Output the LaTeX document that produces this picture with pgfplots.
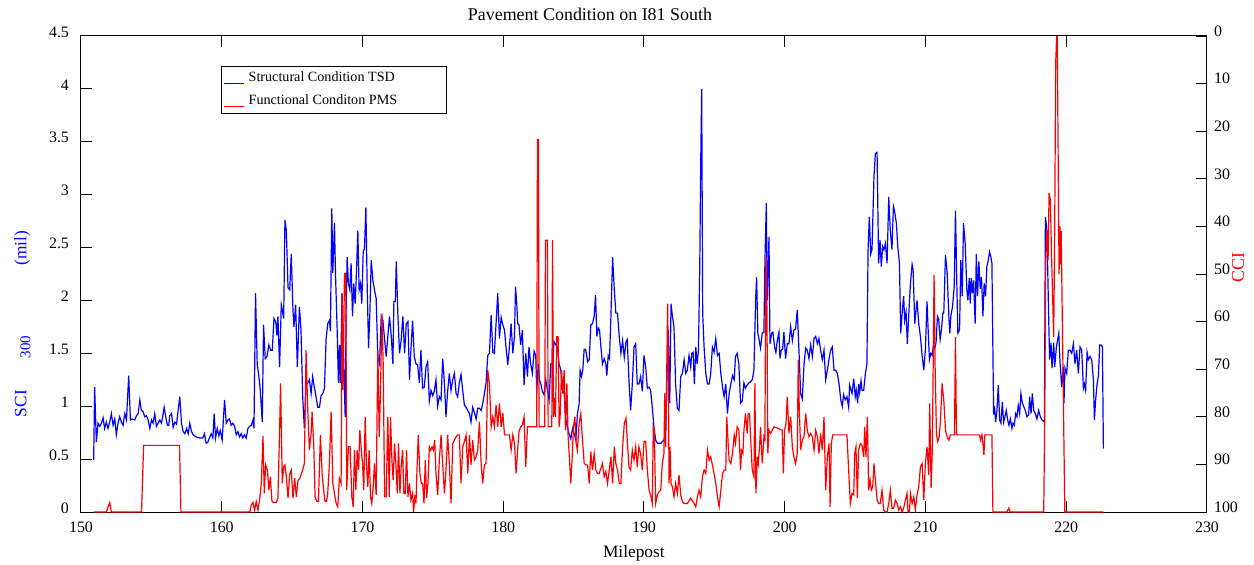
\documentclass[border=0pt]{standalone}
\usepackage{fontspec}
\setmainfont{Liberation Serif}
\usepackage{pgfplots}
\usepackage{pgfplotstable}
\pgfplotsset{compat=1.18}
\newcommand\fs[1]{\fontsize{#1}{#1}\selectfont}

\begin{document}
% structural condition (SCI300, mil)
\pgfplotstableread{
mile sci
150.90 0.49
150.97 1.18
151.09 0.66
151.21 0.84
151.33 0.81
151.45 0.84
151.57 0.89
151.68 0.79
151.80 0.85
151.92 0.79
152.04 0.85
152.16 0.93
152.28 0.82
152.40 0.88
152.51 0.73
152.63 0.84
152.75 0.90
152.87 0.85
152.99 0.82
153.11 0.93
153.23 0.87
153.39 1.29
153.51 0.87
153.63 0.88
153.82 0.87
153.94 0.91
154.06 0.93
154.18 1.06
154.29 0.96
154.41 0.95
154.53 0.90
154.65 0.91
154.77 0.87
154.89 0.79
155.01 0.87
155.12 0.84
155.24 0.93
155.36 0.81
155.48 0.84
155.60 0.87
155.72 0.84
155.91 0.99
156.00 0.91
156.14 0.82
156.24 0.82
156.30 0.91
156.43 0.93
156.55 0.80
156.67 0.85
156.79 0.83
156.90 0.96
157.02 1.09
157.14 0.84
157.26 0.76
157.38 0.74
157.50 0.79
157.62 0.74
157.73 0.84
157.85 0.76
157.97 0.73
158.18 0.71
158.42 0.70
158.66 0.70
158.77 0.74
158.89 0.65
159.01 0.66
159.13 0.70
159.25 0.74
159.37 0.70
159.46 0.93
159.56 0.70
159.68 0.79
159.79 0.72
159.89 0.77
160.03 0.68
160.20 1.06
160.32 0.84
160.44 0.87
160.55 0.88
160.67 0.82
160.79 0.84
160.91 0.81
161.03 0.73
161.15 0.76
161.27 0.71
161.38 0.74
161.50 0.70
161.62 0.73
161.74 0.70
161.86 0.79
161.98 0.81
162.10 0.82
162.22 0.87
162.29 0.79
162.40 2.07
162.52 1.40
162.64 1.28
162.74 1.15
162.88 0.85
162.97 1.77
163.09 1.45
163.21 1.47
163.35 1.58
163.47 1.53
163.59 1.53
163.71 1.83
163.83 1.80
163.92 1.67
163.99 1.85
164.11 1.37
164.23 1.96
164.30 1.91
164.40 1.83
164.49 2.76
164.59 2.66
164.71 2.12
164.83 2.10
164.94 2.44
165.06 1.91
165.13 1.75
165.25 1.96
165.37 1.37
165.52 1.94
165.63 1.72
165.75 1.09
165.87 0.79
165.99 1.20
166.11 1.22
166.23 1.25
166.35 1.12
166.46 1.28
166.58 1.18
166.70 1.09
166.82 0.99
166.94 0.99
167.06 1.10
167.18 1.12
167.30 1.17
167.41 1.63
167.53 1.78
167.65 1.81
167.72 1.71
167.82 2.87
167.89 2.26
168.01 2.73
168.08 2.26
168.20 1.72
168.29 1.22
168.36 1.58
168.43 1.22
168.55 2.07
168.67 1.40
168.77 0.90
168.84 1.94
168.91 2.41
169.00 2.16
169.10 2.10
169.19 2.35
169.29 1.85
169.38 2.16
169.48 1.97
169.57 2.26
169.67 2.66
169.76 2.10
169.86 2.16
169.95 1.97
170.05 2.46
170.14 2.49
170.24 2.88
170.33 2.16
170.43 1.55
170.52 1.86
170.62 2.38
170.74 2.19
170.85 2.10
170.97 2.02
171.09 1.47
171.21 1.40
171.33 1.85
171.45 1.81
171.57 1.63
171.68 1.47
171.80 1.66
171.92 1.85
172.04 1.67
172.16 1.40
172.23 1.99
172.33 1.99
172.40 2.37
172.51 1.88
172.63 1.50
172.75 1.63
172.87 1.85
172.99 1.50
173.11 1.78
173.23 1.80
173.34 1.25
173.44 1.53
173.56 1.81
173.68 1.47
173.80 1.40
173.92 1.39
174.04 1.22
174.15 1.53
174.27 1.17
174.39 1.18
174.51 1.37
174.63 1.42
174.75 1.05
174.87 1.15
174.99 1.10
175.10 1.14
175.22 1.25
175.34 1.00
175.46 1.09
175.58 1.06
175.70 1.45
175.82 1.22
175.93 0.90
176.05 1.14
176.17 1.31
176.29 1.15
176.41 1.25
176.53 1.31
176.65 1.12
176.76 1.09
176.88 1.22
177.00 1.30
177.12 1.15
177.24 1.01
177.36 0.99
177.48 0.96
177.60 0.93
177.71 0.85
177.83 0.99
177.95 0.94
178.07 0.88
178.19 0.98
178.31 0.98
178.43 0.96
178.54 1.02
178.66 1.12
178.78 1.22
178.90 1.48
179.02 1.50
179.14 1.86
179.26 1.51
179.37 1.50
179.49 1.78
179.61 2.07
179.73 1.64
179.85 1.84
179.97 1.77
180.09 1.72
180.20 1.55
180.32 1.39
180.44 1.56
180.56 1.78
180.68 1.50
180.80 1.66
180.87 2.13
180.96 1.97
181.03 1.78
181.12 1.77
181.24 1.58
181.36 1.72
181.48 1.20
181.60 1.50
181.72 1.28
181.83 1.56
181.95 1.40
182.07 1.31
182.19 1.52
182.31 1.48
182.38 1.12
182.48 1.40
182.57 1.25
182.67 1.21
182.78 1.14
182.90 1.11
183.02 1.25
183.14 1.15
183.26 1.06
183.38 1.40
183.50 1.40
183.61 1.61
183.73 1.58
183.85 1.56
183.97 1.40
184.09 1.34
184.21 1.15
184.33 1.12
184.44 0.88
184.56 0.80
184.68 0.74
184.80 0.69
184.92 0.79
185.04 0.74
185.16 0.68
185.27 0.93
185.39 1.02
185.46 1.34
185.56 1.28
185.65 1.34
185.75 1.54
185.87 1.53
185.99 1.42
186.11 1.44
186.22 1.77
186.34 1.78
186.46 1.85
186.56 2.05
186.65 1.66
186.75 1.74
186.84 1.72
186.94 1.56
187.05 1.40
187.17 1.45
187.29 1.40
187.36 1.29
187.46 1.48
187.55 1.45
187.65 1.85
187.77 2.41
187.89 2.10
188.00 1.88
188.12 1.88
188.24 1.66
188.36 1.50
188.48 1.62
188.60 1.46
188.72 1.61
188.81 1.63
188.93 1.25
189.05 0.96
189.17 1.21
189.29 1.56
189.41 1.59
189.52 1.21
189.64 1.21
189.76 1.28
189.88 1.14
190.00 1.48
190.12 1.37
190.24 1.17
190.36 1.18
190.47 1.15
190.59 0.99
190.71 0.80
190.83 0.68
190.95 0.65
191.19 0.65
191.42 0.68
191.54 0.78
191.66 1.40
191.73 1.72
191.83 1.03
191.92 1.97
192.02 1.85
192.13 1.75
192.25 1.20
192.37 0.98
192.49 0.96
192.61 1.28
192.73 1.31
192.85 1.44
192.97 1.31
193.08 1.34
193.20 1.48
193.32 1.37
193.39 1.50
193.49 1.51
193.58 1.21
193.68 1.56
193.77 1.40
193.87 1.53
193.96 2.29
194.03 3.30
194.10 4.00
194.17 1.88
194.27 1.56
194.39 1.31
194.51 1.21
194.63 1.21
194.74 1.31
194.86 1.56
194.98 1.51
195.10 1.64
195.22 1.48
195.34 1.50
195.46 1.31
195.58 1.18
195.69 1.09
195.81 1.21
195.93 0.93
196.05 1.12
196.17 1.21
196.29 1.29
196.41 1.25
196.50 1.47
196.62 1.50
196.74 1.40
196.86 1.03
196.98 1.05
197.10 1.22
197.21 1.17
197.33 1.20
197.45 1.22
197.57 1.23
197.69 1.25
197.81 1.34
197.93 2.00
198.00 2.22
198.09 1.69
198.19 1.62
198.28 1.55
198.40 1.69
198.52 1.70
198.59 2.35
198.69 2.92
198.76 2.00
198.88 2.60
198.95 1.59
199.07 1.69
199.16 1.70
199.28 1.56
199.37 1.51
199.47 1.62
199.59 1.70
199.66 1.45
199.75 1.53
199.85 1.54
199.94 1.70
200.06 1.45
200.18 1.59
200.30 1.59
200.42 1.75
200.54 1.62
200.65 1.72
200.77 1.73
200.89 1.91
201.01 1.53
201.13 1.12
201.25 1.07
201.37 1.40
201.49 1.55
201.60 1.53
201.72 1.45
201.84 1.58
201.96 1.47
202.08 1.64
202.20 1.66
202.32 1.59
202.43 1.64
202.55 1.53
202.67 1.44
202.79 1.53
202.91 1.25
203.03 1.34
203.15 1.45
203.26 1.53
203.38 1.56
203.50 1.34
203.62 1.34
203.74 1.31
203.86 1.21
203.98 1.06
204.09 1.00
204.18 1.11
204.30 1.06
204.42 1.09
204.54 0.99
204.61 1.20
204.71 1.15
204.78 1.12
204.90 1.26
205.01 1.09
205.08 1.15
205.18 1.03
205.25 1.21
205.32 1.13
205.42 1.24
205.49 1.15
205.61 1.15
205.73 1.31
205.84 1.40
205.92 2.48
206.01 2.79
206.11 2.44
206.20 2.48
206.34 3.17
206.44 3.39
206.56 3.40
206.67 2.35
206.77 2.57
206.86 2.32
206.96 2.51
207.05 2.48
207.15 2.54
207.27 2.35
207.39 2.98
207.50 2.66
207.62 2.48
207.72 2.89
207.81 2.84
207.93 2.73
208.03 2.51
208.15 2.35
208.24 1.69
208.34 1.88
208.45 2.04
208.52 1.81
208.62 1.89
208.71 1.59
208.81 1.86
208.93 2.16
209.05 2.34
209.12 2.29
209.24 1.78
209.28 1.84
209.40 2.00
209.52 1.78
209.64 1.66
209.76 1.48
209.88 1.34
209.99 1.53
210.11 1.99
210.19 1.72
210.28 1.44
210.38 1.50
210.47 1.48
210.57 1.58
210.66 1.55
210.75 1.60
210.85 1.85
210.94 1.82
211.04 1.63
211.13 1.72
211.23 1.88
211.30 1.88
211.42 2.43
211.54 2.26
211.66 1.85
211.73 1.69
211.80 1.85
211.92 1.94
212.04 2.13
212.13 2.85
212.23 2.13
212.30 1.69
212.42 1.72
212.51 2.38
212.61 2.04
212.70 2.73
212.82 2.54
212.94 2.10
213.01 2.00
213.11 2.21
213.18 1.97
213.25 2.21
213.34 2.07
213.42 2.19
213.53 1.78
213.61 2.44
213.70 2.04
213.79 2.37
213.89 2.11
213.98 2.22
214.08 1.85
214.17 2.16
214.27 2.04
214.36 2.32
214.46 2.38
214.55 2.46
214.65 2.41
214.72 2.35
214.84 0.92
214.91 1.00
214.98 0.85
215.08 0.96
215.17 1.20
215.27 0.87
215.36 0.84
215.46 1.04
215.55 0.85
215.65 0.90
215.74 0.96
215.84 0.87
215.93 0.82
216.03 0.88
216.14 0.79
216.21 0.84
216.31 0.82
216.40 0.93
216.50 0.90
216.59 1.01
216.69 0.93
216.78 1.12
216.88 1.03
216.97 1.00
217.09 0.96
217.21 0.90
217.33 0.92
217.40 1.09
217.50 0.93
217.59 1.12
217.69 0.96
217.80 0.93
217.92 0.88
218.04 0.96
218.16 0.90
218.28 0.87
218.45 0.85
218.52 2.79
218.63 2.66
218.75 1.85
218.82 1.44
218.92 1.60
218.99 1.36
219.11 1.60
219.18 1.37
219.30 1.56
219.47 1.69
219.56 1.41
219.68 1.18
219.79 1.37
219.84 1.03
219.91 1.36
220.03 1.31
220.15 1.53
220.27 1.53
220.39 1.50
220.51 1.59
220.62 1.40
220.74 1.53
220.86 1.31
220.98 1.56
221.10 1.53
221.22 1.17
221.29 1.21
221.38 1.15
221.48 1.51
221.57 1.44
221.69 1.47
221.81 1.44
221.93 1.25
222.00 0.87
222.09 1.06
222.19 1.21
222.28 1.28
222.38 1.58
222.47 1.58
222.57 1.56
222.64 0.60
}\scidata
% functional condition (CCI)
\pgfplotstableread{
mile cci
150.90 100
151.80 100
152.04 98
152.16 100
154.30 100
154.45 86
157.00 86
157.10 100
162.00 100
162.10 98.5
162.22 98.0
162.33 99.6
162.45 97.8
162.57 99.6
162.69 97.5
162.81 94.0
162.93 84.0
163.02 96.1
163.12 90.1
163.24 91.2
163.35 95.4
163.45 92.6
163.57 97.8
163.69 98.0
163.88 98.0
163.99 97.1
164.11 82.8
164.18 73.0
164.30 94.0
164.40 90.5
164.49 90.1
164.59 92.6
164.71 97.1
164.83 92.0
164.94 91.2
165.06 97.1
165.18 92.9
165.30 96.8
165.42 93.3
165.54 93.0
165.66 91.9
165.75 91.2
165.87 89.8
165.99 66.0
166.11 78.6
166.23 87.0
166.35 83.5
166.42 78.9
166.54 86.3
166.63 96.8
166.75 97.8
166.87 97.8
167.01 83.8
167.13 91.9
167.25 95.7
167.34 97.8
167.44 97.8
167.53 96.1
167.65 89.8
167.77 78.9
167.89 93.9
168.01 96.1
168.13 98.2
168.24 98.9
168.36 92.9
168.48 94.0
168.55 54.1
168.62 74.4
168.72 49.9
168.81 49.9
168.88 95.4
169.00 86.3
169.12 86.3
169.24 96.8
169.34 98.9
169.43 87.0
169.53 95.4
169.62 87.0
169.72 91.2
169.81 82.8
169.90 86.3
170.00 89.8
170.09 95.4
170.19 80.0
170.28 89.8
170.38 94.7
170.47 87.0
170.57 96.8
170.66 98.2
170.76 94.7
170.85 89.8
170.97 96.4
171.09 66.0
171.19 84.2
171.28 74.4
171.38 58.3
171.47 68.8
171.57 96.8
171.68 96.8
171.80 80.0
171.90 96.8
171.99 80.0
172.09 89.1
172.18 93.3
172.28 85.6
172.37 89.8
172.47 96.1
172.56 85.6
172.66 96.1
172.75 90.5
172.85 87.0
172.94 96.1
173.04 96.1
173.13 87.0
173.23 96.8
173.34 94.0
173.44 97.5
173.56 96.1
173.63 100
173.73 96.4
173.80 98.2
173.87 91.2
173.96 83.8
174.08 91.9
174.18 94.0
174.27 94.0
174.37 98.2
174.46 89.1
174.56 97.1
174.65 94.0
174.75 86.3
174.84 87.0
174.94 86.3
175.03 87.0
175.13 84.9
175.22 91.9
175.34 96.4
175.46 89.1
175.58 83.8
175.70 90.1
175.82 96.1
175.93 91.2
176.05 83.8
176.17 89.8
176.29 98.2
176.41 85.6
176.53 84.9
176.65 84.2
176.76 83.8
176.88 83.8
177.00 94.0
177.12 86.3
177.24 85.2
177.36 83.8
177.48 91.9
177.60 83.8
177.71 90.1
177.83 84.9
177.95 89.1
178.07 88.4
178.19 87.0
178.31 81.0
178.43 89.8
178.54 94.0
178.66 90.1
178.78 89.8
178.90 70.2
179.02 73.0
179.14 82.1
179.26 80.0
179.37 82.1
179.49 77.5
179.61 82.1
179.73 77.2
179.85 82.1
179.97 79.2
180.09 83.8
180.20 83.8
180.32 83.8
180.44 83.8
180.56 87.0
180.68 83.8
180.80 85.6
180.91 91.9
181.03 86.6
181.12 83.1
181.24 82.1
181.36 81.7
181.48 80.0
181.60 90.5
181.72 82.1
182.38 82.1
182.43 21.8
182.50 21.8
182.55 82.1
182.95 82.1
183.00 42.9
183.14 42.9
183.19 82.1
183.45 82.1
183.50 42.9
183.57 80.0
183.64 76.0
183.71 80.0
183.80 63.2
183.90 63.2
183.97 82.1
184.04 80.0
184.14 70.2
184.23 75.1
184.33 70.2
184.42 82.8
184.52 73.0
184.61 84.2
184.71 89.1
184.80 94.0
184.90 88.4
184.99 82.1
185.09 80.0
185.18 85.6
185.27 87.0
185.39 81.4
185.51 79.3
185.63 84.9
185.75 89.8
185.87 90.1
185.99 90.1
186.11 94.0
186.22 87.3
186.34 91.2
186.46 87.7
186.58 91.2
186.70 91.9
186.82 91.9
186.94 90.8
187.05 89.8
187.17 92.6
187.29 91.5
187.41 94.0
187.53 91.2
187.65 88.4
187.77 94.0
187.89 86.3
188.00 89.8
188.12 91.2
188.24 94.0
188.36 94.0
188.48 86.3
188.60 81.4
188.72 80.3
188.81 84.9
188.93 90.5
189.05 91.2
189.17 87.0
189.29 89.1
189.41 86.3
189.52 90.5
189.64 86.3
189.76 87.7
189.88 91.2
190.00 85.2
190.12 85.2
190.24 91.2
190.36 95.4
190.47 96.4
190.59 98.2
190.66 82.1
190.73 82.8
190.83 98.2
190.95 96.4
191.07 95.7
191.19 95.4
191.30 89.8
191.42 87.7
191.47 75.1
191.54 86.3
191.61 71.9
191.68 56.2
191.73 68.8
191.78 94.0
191.85 86.3
191.92 94.0
192.02 94.7
192.13 96.8
192.25 94.0
192.37 96.1
192.49 92.2
192.61 96.4
192.73 97.8
192.85 98.2
193.08 98.2
193.32 97.1
193.56 98.2
193.68 98.9
193.80 96.8
193.91 95.4
194.03 96.8
194.15 92.6
194.27 91.2
194.39 91.9
194.51 87.0
194.63 89.1
194.74 88.4
194.86 90.1
194.98 91.9
195.10 94.0
195.22 96.8
195.34 98.9
195.46 95.4
195.58 91.9
195.69 91.2
195.81 91.2
195.88 80.0
195.98 85.6
196.05 89.1
196.17 89.8
196.29 87.7
196.41 83.8
196.50 85.6
196.62 82.1
196.74 82.8
196.86 91.2
196.93 87.0
197.03 87.7
197.10 82.8
197.21 79.3
197.33 83.5
197.40 79.3
197.50 79.3
197.57 84.2
197.69 91.2
197.81 92.6
197.88 73.0
197.95 96.1
198.05 88.4
198.12 89.8
198.21 86.3
198.28 82.1
198.40 89.8
198.52 84.2
198.59 84.9
198.66 46.4
198.73 55.5
198.80 87.7
198.88 82.8
199.00 83.5
199.11 82.8
199.23 82.1
199.82 82.8
199.90 91.9
199.99 82.8
200.09 81.4
200.18 75.8
200.30 83.5
200.42 80.0
200.54 86.3
200.65 88.4
200.77 89.8
200.89 87.7
200.96 68.1
201.03 77.9
201.13 87.0
201.25 84.9
201.37 84.2
201.49 79.3
201.60 82.8
201.72 84.2
201.84 83.5
201.96 84.2
202.08 87.0
202.20 82.8
202.32 84.2
202.43 87.7
202.55 83.5
202.67 87.0
202.79 80.0
202.91 95.4
203.03 88.4
203.15 85.6
203.22 98.9
203.31 85.6
203.41 83.8
204.42 83.8
204.54 91.2
204.66 98.2
204.78 96.1
204.90 96.4
204.97 87.7
205.06 86.3
205.16 97.1
205.25 87.0
205.37 85.6
205.49 86.0
205.61 88.4
205.68 82.1
205.77 88.4
205.87 80.0
205.96 95.4
206.06 93.3
206.15 95.4
206.25 94.7
206.34 89.8
206.44 93.3
206.56 97.5
206.67 98.2
206.79 98.2
206.91 95.4
207.03 99.6
207.15 100
207.27 100
207.39 98.2
207.50 95.4
207.62 99.2
207.74 99.2
207.86 97.5
207.98 98.2
208.10 99.6
208.22 98.9
208.34 100
208.45 99.2
208.57 97.5
208.69 96.1
208.76 100
208.86 100
208.93 96.1
209.05 98.2
209.17 96.8
209.28 99.6
209.40 96.4
209.52 94.7
209.64 90.5
209.76 89.8
209.88 97.5
209.99 89.8
210.11 86.3
210.23 92.2
210.30 77.2
210.40 95.0
210.49 86.3
210.57 61.8
210.61 50.2
210.68 68.8
210.78 83.8
210.87 85.2
210.97 84.2
211.06 81.0
211.18 73.0
211.30 76.5
211.42 82.8
211.54 84.2
211.66 84.9
211.78 83.8
212.06 83.8
212.13 63.2
212.20 83.8
213.84 83.8
213.91 84.9
214.01 83.8
214.08 85.6
214.15 88.0
214.22 83.8
214.72 83.8
214.79 100
215.79 100
215.91 99.2
216.03 100
218.40 100
218.47 80.7
218.54 47.8
218.63 40.8
218.71 47.1
218.78 33.0
218.87 34.5
218.97 47.8
219.11 63.2
219.18 40.8
219.25 5.7
219.32 0
219.36 0
219.49 50
219.55 40
219.60 48
219.64 41
219.90 100
222.64 100
}\ccidata

\begin{tikzpicture}
\useasboundingbox (-40.5bp,-26.5bp) rectangle (586.5bp,256bp);
\pgfplotsset{
  every axis/.append style={
    scale only axis, width=563bp, height=238bp,
    xmin=150, xmax=230,
    tick align=inside, major tick length=5.5bp,
    axis line style={line width=0.5bp},
    every tick/.style={black, line width=0.5bp},
    tick label style={font=\fs{8}},
    /pgf/number format/assume math mode=true,
  },
}
\begin{axis}[
    ymin=0, ymax=4.5,
    xtick={150,160,170,180,190,200,210,220,230},
    ytick={0,0.5,1,1.5,2,2.5,3,3.5,4,4.5},
    xtick pos=both, xticklabel pos=bottom,
    ytick pos=left,
    yticklabel style={xshift=-2.5bp, yshift=2bp},
    xticklabel style={yshift=-1.5bp},
    title={Pavement Condition on I81 South},
    every axis title shift=0pt,
    title style={at={(axis description cs:0.452,1.046)}, anchor=center, font=\fs{9}},
    xlabel={Milepost},
    xlabel style={at={(axis description cs:0.491,-0.086)}, anchor=center, font=\fs{8.7}},
    ylabel={SCI\hspace{16bp}\raisebox{-0.5ex}{\fs{7.5}300}\hspace{35bp}(mil)},
    ylabel style={at={(axis description cs:-0.052,0.395)}, anchor=center, font=\fs{8.7}, blue},
]
\addplot[blue, line width=0.6bp] table[x=mile, y=sci] {\scidata};
\end{axis}
\begin{axis}[
    ymin=0, ymax=100, y dir=reverse,
    hide x axis, axis y line*=right,
    ytick={0,10,20,30,40,50,60,70,80,90,100},
    ytick pos=right, yticklabel pos=right,
    yticklabel style={yshift=2.5bp},
    ylabel={CCI},
    ylabel style={at={(axis description cs:1.0275,0.513)}, anchor=center, font=\fs{9}, red},
    legend style={at={(axis description cs:0.1243,0.937)}, anchor=north west,
      draw=black, line width=0.5bp, font=\fs{7.1},
      inner xsep=1bp, inner ysep=0.8bp, row sep=1bp, cells={anchor=west}},
    legend image code/.code={\draw[#1] (0bp,-2.5bp) -- (10bp,-2.5bp);},
]
\addlegendimage{draw=blue, line width=0.6bp}
\addlegendentry{Structural Condition TSD\hspace{23bp}\mbox{}}
\addlegendimage{draw=red, line width=0.6bp}
\addlegendentry{Functional Conditon PMS}
\addplot[red, line width=0.6bp, forget plot] table[x=mile, y=cci] {\ccidata};
\end{axis}
\end{tikzpicture}
\end{document}
